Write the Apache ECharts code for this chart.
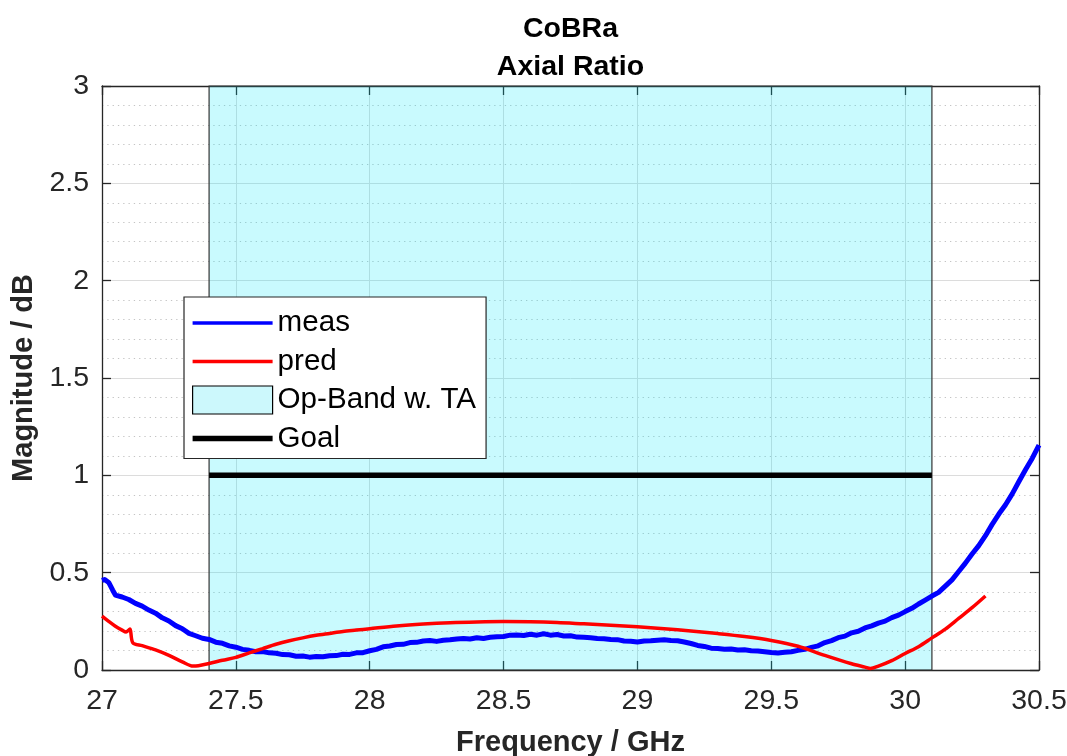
<!DOCTYPE html>
<html>
<head>
<meta charset="utf-8">
<script src="https://cdn.jsdelivr.net/npm/echarts@6/dist/echarts.min.js"></script>
<style>
html,body{margin:0;padding:0;background:#fff;}
#chart{width:1067px;height:756px;}
</style>
</head>
<body>
<div id="chart"></div>
<script>
// ---- data ----
const measFreq = [
27.000,27.010,27.025,27.040,27.050,27.075,27.100,27.125,27.150,27.175,
27.200,27.225,27.250,27.275,27.300,27.325,27.350,27.375,27.400,27.425,
27.450,27.475,27.500,27.525,27.550,27.575,27.600,27.625,27.650,27.675,
27.700,27.725,27.750,27.775,27.800,27.825,27.850,27.875,27.900,27.925,
27.950,27.975,28.000,28.025,28.050,28.075,28.100,28.125,28.150,28.175,
28.200,28.225,28.250,28.275,28.300,28.325,28.350,28.375,28.400,28.425,
28.450,28.475,28.500,28.525,28.550,28.575,28.600,28.625,28.650,28.675,
28.700,28.725,28.750,28.775,28.800,28.825,28.850,28.875,28.900,28.925,
28.950,28.975,29.000,29.025,29.050,29.075,29.100,29.125,29.150,29.175,
29.200,29.225,29.250,29.275,29.300,29.325,29.350,29.375,29.400,29.425,
29.450,29.475,29.500,29.525,29.550,29.575,29.600,29.625,29.650,29.675,
29.700,29.725,29.750,29.775,29.800,29.825,29.850,29.875,29.900,29.925,
29.950,29.975,30.000,30.025,30.050,30.075,30.100,30.125,30.150,30.175,
30.200,30.225,30.250,30.275,30.300,30.325,30.350,30.375,30.400,30.425,
30.450,30.475,30.500];
const measVal = [
0.460,0.465,0.450,0.410,0.385,0.375,0.362,0.342,0.328,0.308,
0.292,0.268,0.252,0.228,0.212,0.188,0.176,0.163,0.157,0.143,
0.137,0.124,0.117,0.106,0.101,0.094,0.095,0.088,0.086,0.079,
0.078,0.071,0.072,0.066,0.069,0.068,0.073,0.074,0.081,0.080,
0.088,0.089,0.099,0.106,0.119,0.123,0.131,0.132,0.141,0.142,
0.149,0.151,0.147,0.153,0.155,0.159,0.162,0.159,0.166,0.162,
0.168,0.171,0.172,0.179,0.180,0.177,0.184,0.179,0.186,0.179,
0.182,0.175,0.176,0.169,0.168,0.166,0.162,0.161,0.157,0.156,
0.149,0.148,0.144,0.149,0.150,0.153,0.155,0.151,0.150,0.144,
0.136,0.126,0.121,0.112,0.111,0.107,0.108,0.103,0.104,0.099,
0.098,0.094,0.090,0.087,0.091,0.094,0.101,0.106,0.116,0.124,
0.141,0.151,0.166,0.174,0.191,0.199,0.216,0.227,0.241,0.251,
0.269,0.282,0.300,0.317,0.339,0.359,0.380,0.399,0.431,0.463,
0.506,0.549,0.596,0.639,0.690,0.748,0.801,0.849,0.905,0.968,
1.030,1.088,1.155];
const predFreq = [
27.000,27.025,27.050,27.075,27.090,27.100,27.105,27.115,27.150,27.200,
27.250,27.300,27.340,27.360,27.400,27.450,27.500,27.550,27.600,27.650,
27.700,27.750,27.800,27.850,27.900,27.950,28.000,28.100,28.200,28.300,
28.400,28.500,28.600,28.700,28.800,28.900,29.000,29.100,29.200,29.300,
29.400,29.500,29.600,29.700,29.800,29.850,29.870,29.900,29.950,30.000,
30.050,30.100,30.150,30.200,30.250,30.300];
const predVal = [
0.277,0.250,0.225,0.205,0.195,0.205,0.210,0.140,0.125,0.103,
0.075,0.042,0.020,0.022,0.033,0.050,0.065,0.088,0.110,0.132,
0.150,0.165,0.178,0.188,0.198,0.205,0.212,0.226,0.236,0.243,
0.247,0.249,0.248,0.244,0.237,0.230,0.222,0.212,0.200,0.187,
0.172,0.152,0.122,0.075,0.032,0.015,0.008,0.020,0.048,0.085,
0.120,0.165,0.210,0.265,0.320,0.380];
const bandRange = [27.4, 30.1];
const goalFreq = [27.4, 30.1];
const goalVal = [1, 1];
const seriesNames = ['meas', 'pred', 'Op-Band w. TA', 'Goal'];

// ---- chart ----
const FONT = "'Liberation Sans', Arial, Helvetica, sans-serif";
const AX = '#262626';
const zip = (a, b) => a.map((v, i) => [v, b[i]]);
const chart = echarts.init(document.getElementById('chart'), null, {renderer: 'canvas'});

const axisCommon = {
  axisLine: {show: true, onZero: false, lineStyle: {color: AX, width: 1.3}},
  axisTick: {show: true, inside: true, length: 9, lineStyle: {color: AX, width: 1.3}},
};

chart.setOption({
  animation: false,
  backgroundColor: '#fff',
  textStyle: {fontFamily: FONT},
  title: {
    text: 'CoBRa\nAxial Ratio',
    left: 570.5, top: 10, textAlign: 'center', padding: 0,
    textStyle: {fontFamily: FONT, fontSize: 28.5, fontWeight: 'bold', color: '#000', lineHeight: 38}
  },
  grid: {left: 102, right: 28, top: 86, bottom: 86, containLabel: false, outerBoundsMode: 'none'},
  legend: {
    orient: 'vertical', left: 184, top: 297,
    padding: [11, 10, 5, 8], itemGap: 8.5,
    itemWidth: 80, itemHeight: 28,
    backgroundColor: '#fff', borderColor: AX, borderWidth: 1.2,
    textStyle: {fontFamily: FONT, fontSize: 29.6, color: '#000', lineHeight: 28},
    data: [
      {name: seriesNames[0], icon: 'path://M0,0L80,0L80,3.6L0,3.6Z', itemStyle: {color: '#0000ff'}},
      {name: seriesNames[1], icon: 'path://M0,0L80,0L80,3.6L0,3.6Z', itemStyle: {color: '#ff0000'}},
      {name: seriesNames[2], icon: 'rect', itemStyle: {color: '#ccf8fc', borderColor: '#000', borderWidth: 1.2}},
      {name: seriesNames[3], icon: 'path://M0,0L80,0L80,5.5L0,5.5Z', itemStyle: {color: '#000000'}}
    ]
  },
  xAxis: [
    Object.assign({
      type: 'value', position: 'bottom', min: 27, max: 30.5, interval: 0.5,
      name: 'Frequency / GHz', nameLocation: 'middle', nameGap: 58,
      nameTextStyle: {fontFamily: FONT, fontSize: 29, fontWeight: 'bold', color: AX},
      axisLabel: {show: true, margin: 17, fontFamily: FONT, fontSize: 28.5, color: AX},
      splitLine: {show: true, lineStyle: {color: '#dcdcdc', width: 1}}
    }, axisCommon),
    Object.assign({
      type: 'value', position: 'top', min: 27, max: 30.5, interval: 0.5,
      axisLabel: {show: false}, splitLine: {show: false}
    }, axisCommon)
  ],
  yAxis: [
    Object.assign({
      type: 'value', position: 'left', min: 0, max: 3, interval: 0.5,
      name: 'Magnitude / dB', nameLocation: 'middle', nameGap: 54, nameRotate: 90,
      nameTextStyle: {fontFamily: FONT, fontSize: 29, fontWeight: 'bold', color: AX},
      axisLabel: {show: true, margin: 13, fontFamily: FONT, fontSize: 28.5, color: AX},
      splitLine: {show: true, lineStyle: {color: '#dcdcdc', width: 1}},
      minorTick: {show: false, splitNumber: 5},
      minorSplitLine: {show: true, lineStyle: {color: '#c4c4c4', width: 1, type: [1.3, 4]}}
    }, axisCommon),
    Object.assign({
      type: 'value', position: 'right', min: 0, max: 3, interval: 0.5,
      axisLabel: {show: false}, splitLine: {show: false}
    }, axisCommon)
  ],
  series: [
    {
      name: seriesNames[2], type: 'line', data: [], silent: true,
      itemStyle: {color: '#ccf8fc'},
      markArea: {
        silent: true,
        itemStyle: {color: 'rgba(0,232,248,0.21)', borderColor: '#333', borderWidth: 1.2},
        data: [[{xAxis: bandRange[0], yAxis: 0}, {xAxis: bandRange[1], yAxis: 3}]]
      }
    },
    {
      name: seriesNames[0], type: 'line', data: zip(measFreq, measVal),
      showSymbol: false, symbol: 'none', smooth: false, z: 3,
      lineStyle: {color: '#0000ff', width: 5, join: 'round'}, itemStyle: {color: '#0000ff'}
    },
    {
      name: seriesNames[1], type: 'line', data: zip(predFreq, predVal),
      showSymbol: false, symbol: 'none', smooth: 0.3, z: 4,
      lineStyle: {color: '#ff0000', width: 3.5}, itemStyle: {color: '#ff0000'}
    },
    {
      name: seriesNames[3], type: 'line', data: zip(goalFreq, goalVal),
      showSymbol: false, symbol: 'none', z: 5,
      lineStyle: {color: '#000000', width: 5.5}, itemStyle: {color: '#000000'}
    }
  ]
});
</script>
</body>
</html>
